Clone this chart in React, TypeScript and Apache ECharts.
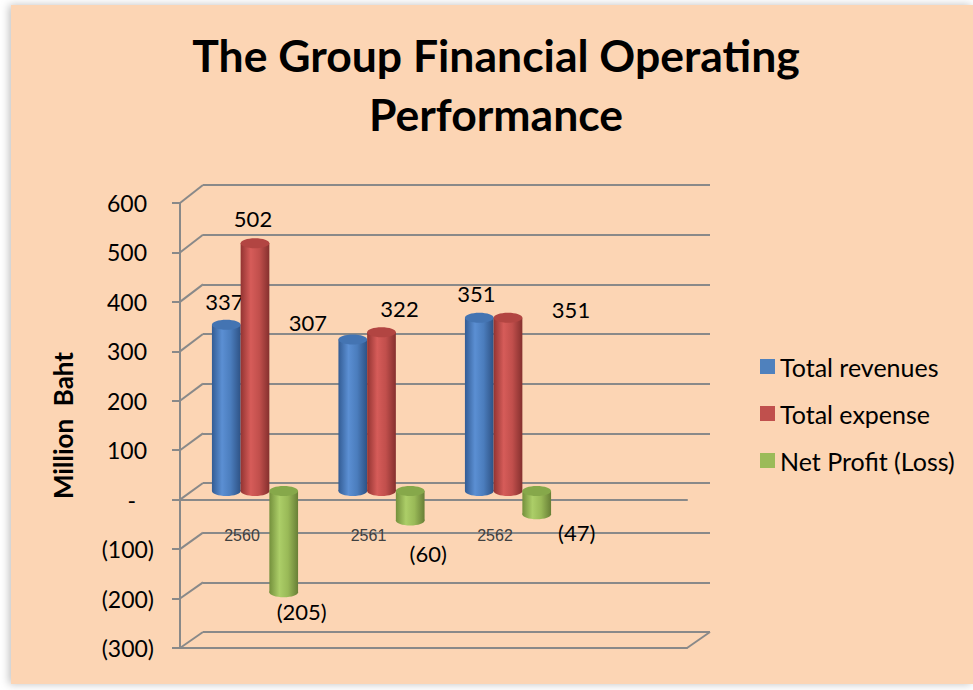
import React, { useEffect, useRef } from 'react';
import * as echarts from 'echarts';

const categories = ['2560', '2561', '2562'];
const seriesNames = ['Total revenues', 'Total expense', 'Net Profit (Loss)'];
const totalRevenues = [337, 307, 351];
const totalExpense = [502, 322, 351];
const netProfit = [-205, -60, -47];
const yTicks = [-300, -200, -100, 0, 100, 200, 300, 400, 500, 600];
const titleText = 'The Group Financial Operating\nPerformance';
const yAxisName = 'Million  Baht';

// label offsets relative to bar end (presentation only)
const labelOffsets = [
  [[-2, -23], [-45, -17], [-3, -24]],
  [[-2, -25], [18, -24], [63, -8]],
  [[18, 19], [18, 33], [40, 18]],
];

const palettes = [
  { base: '#4F81BD', stops: ['#335c94', '#5b8fd3', '#4b7dbd', '#2e5285'], cap: '#4474b2' },
  { base: '#C0504D', stops: ['#933432', '#d65c59', '#c14f4c', '#85302e'], cap: '#b24542' },
  { base: '#9BBB59', stops: ['#74903c', '#acce68', '#99b957', '#687f36'], cap: '#86a84a' },
];

const fmt = (v: number) => (v < 0 ? `(${-v})` : `${v}`);
const FONT = 'Lato';
const GRID_COLOR = '#898989';

const makeRender = (si: number) => (params: any, api: any) => {
  const i = api.value(0);
  const v = api.value(1);
  const p0 = api.coord([i, 0]);
  const p1 = api.coord([i, v]);
  const band = api.size([1, 0])[0];
  const w = band * 0.227;
  const cx = p0[0] + (si - 1) * w;
  const yTop = Math.min(p0[1], p1[1]);
  const yBot = Math.max(p0[1], p1[1]);
  const ry = 5;
  const pal = palettes[si];
  const grad = () =>
    new echarts.graphic.LinearGradient(0, 0, 1, 0, [
      { offset: 0, color: pal.stops[0] },
      { offset: 0.35, color: pal.stops[1] },
      { offset: 0.65, color: pal.stops[2] },
      { offset: 1, color: pal.stops[3] },
    ]);
  const off = labelOffsets[si][params.dataIndex];
  return {
    type: 'group',
    children: [
      { type: 'ellipse', shape: { cx, cy: yBot, rx: w / 2, ry }, style: { fill: grad() } },
      { type: 'rect', shape: { x: cx - w / 2, y: yTop, width: w, height: yBot - yTop }, style: { fill: grad() } },
      { type: 'ellipse', shape: { cx, cy: yTop, rx: w / 2, ry }, style: { fill: pal.cap } },
      {
        type: 'text',
        x: cx + off[0],
        y: p1[1] + off[1],
        style: {
          text: fmt(v),
          align: 'center',
          verticalAlign: 'middle',
          fontFamily: FONT,
          fontSize: 22,
          fill: '#000',
        },
      },
    ],
  };
};

export default function App() {
  const ref = useRef<HTMLDivElement>(null);
  useEffect(() => {
    document.body.style.margin = '0';
    const chart = echarts.init(ref.current!, null, { renderer: 'svg' });
    const valueSets = [totalRevenues, totalExpense, netProfit];
    const labelStyle = { fontFamily: FONT, fontSize: 23, color: '#000' };
    const baseGraphic: any[] = [
      {
        id: 'bg',
        type: 'rect',
        z: -10,
        shape: { x: 11, y: 5, width: 962, height: 679 },
        style: { fill: '#FCD5B4', shadowBlur: 8, shadowColor: 'rgba(0,0,0,0.25)', shadowOffsetX: -2 },
      },
      {
        id: 'title',
        type: 'text',
        x: 496,
        y: 84,
        style: {
          text: titleText,
          align: 'center',
          verticalAlign: 'middle',
          fontFamily: FONT,
          fontWeight: 'bold',
          fontSize: 44.5,
          lineHeight: 59,
          fill: '#000',
        },
      },
    ];
    chart.setOption({
      animation: false,
      backgroundColor: '#ffffff',
      graphic: baseGraphic,
      legend: {
        data: seriesNames,
        orient: 'vertical',
        left: 760,
        top: 354,
        padding: 0,
        icon: 'rect',
        itemWidth: 15,
        itemHeight: 15,
        itemGap: 22,
        selectedMode: false,
        textStyle: { fontFamily: FONT, fontSize: 25, color: '#000', lineHeight: 20 },
      },
      grid: [
        { left: 180, top: 203, width: 507, height: 445 },
        { left: 203, top: 185, width: 507, height: 447 },
        { left: 191.75, top: 195, width: 379.5, height: 444 },
      ],
      xAxis: [
        {
          gridIndex: 0, type: 'value', min: 0, max: 1, position: 'bottom',
          axisLine: { show: true, onZero: false, lineStyle: { color: GRID_COLOR, width: 2 } },
          axisTick: { show: false }, axisLabel: { show: false }, splitLine: { show: false },
        },
        {
          gridIndex: 0, type: 'value', min: 0, max: 1, position: 'top',
          axisLine: { show: true, onZero: true, lineStyle: { color: GRID_COLOR, width: 2 } },
          axisTick: { show: false }, axisLabel: { show: false }, splitLine: { show: false },
        },
        {
          gridIndex: 1, type: 'value', min: 0, max: 1, show: false,
        },
        {
          gridIndex: 2, type: 'category', data: categories,
          position: 'bottom',
          offset: -148,
          axisLine: { show: false, onZero: false },
          axisTick: { show: false },
          axisLabel: {
            margin: 36,
            padding: [0, 26, 0, 0],
            fontFamily: 'Liberation Sans',
            fontSize: 16,
            color: '#404040',
          },
          splitLine: { show: false },
        },
      ],
      yAxis: [
        {
          gridIndex: 0, type: 'value', min: -300, max: 600, interval: 100,
          axisLine: { show: true, lineStyle: { color: GRID_COLOR, width: 2 } },
          axisTick: { show: true, length: 8, lineStyle: { color: GRID_COLOR, width: 2 } },
          splitLine: { show: false },
          name: yAxisName,
          nameLocation: 'middle',
          nameGap: 104,
          nameRotate: 90,
          nameTextStyle: { fontFamily: FONT, fontWeight: 'bold', fontSize: 26, color: '#000' },
          axisLabel: {
            margin: 26,
            ...labelStyle,
            formatter: (v: number) => (v > 0 ? `{p|${v}}` : v === 0 ? '{d|-}' : `(${-v})`),
            rich: {
              p: { ...labelStyle, padding: [0, 7, 0, 0] },
              d: { ...labelStyle, padding: [0, 18, 0, 0] },
            },
          },
        },
        {
          gridIndex: 1, type: 'value', min: -300, max: 600, interval: 100,
          axisLine: { show: false }, axisTick: { show: false }, axisLabel: { show: false },
          splitLine: { show: true, lineStyle: { color: GRID_COLOR, width: 2 } },
        },
        {
          gridIndex: 2, type: 'value', min: -300, max: 600, interval: 100, show: false,
          splitLine: { show: false },
        },
      ],
      series: valueSets.map((vals, si) => ({
        type: 'custom',
        name: seriesNames[si],
        xAxisIndex: 3,
        yAxisIndex: 2,
        itemStyle: { color: palettes[si].base },
        encode: { x: 0, y: 1 },
        data: vals.map((v, i) => [i, v]),
        renderItem: makeRender(si),
        z: 3 + si,
      })),
    });

    // 3D connectors between front axis and back wall, computed from the axis scales
    const xf0 = chart.convertToPixel({ xAxisIndex: 0 }, 0) as number;
    const xf1 = chart.convertToPixel({ xAxisIndex: 0 }, 1) as number;
    const xb0 = chart.convertToPixel({ xAxisIndex: 2 }, 0) as number;
    const xb1 = chart.convertToPixel({ xAxisIndex: 2 }, 1) as number;
    const lines: any[] = yTicks.map((t, k) => ({
      id: 'diag' + k,
      type: 'line',
      z: 1,
      shape: {
        x1: xf0,
        y1: chart.convertToPixel({ yAxisIndex: 0 }, t) as number,
        x2: xb0,
        y2: chart.convertToPixel({ yAxisIndex: 1 }, t) as number,
      },
      style: { stroke: GRID_COLOR, lineWidth: 2 },
    }));
    const minT = yTicks[0];
    lines.push({
      id: 'diagR',
      type: 'line',
      z: 1,
      shape: {
        x1: xf1,
        y1: chart.convertToPixel({ yAxisIndex: 0 }, minT) as number,
        x2: xb1,
        y2: chart.convertToPixel({ yAxisIndex: 1 }, minT) as number,
      },
      style: { stroke: GRID_COLOR, lineWidth: 2 },
    });
    chart.setOption({ graphic: [...baseGraphic, ...lines] });

    return () => chart.dispose();
  }, []);
  return <div ref={ref} style={{ width: 973, height: 690 }} />;
}
